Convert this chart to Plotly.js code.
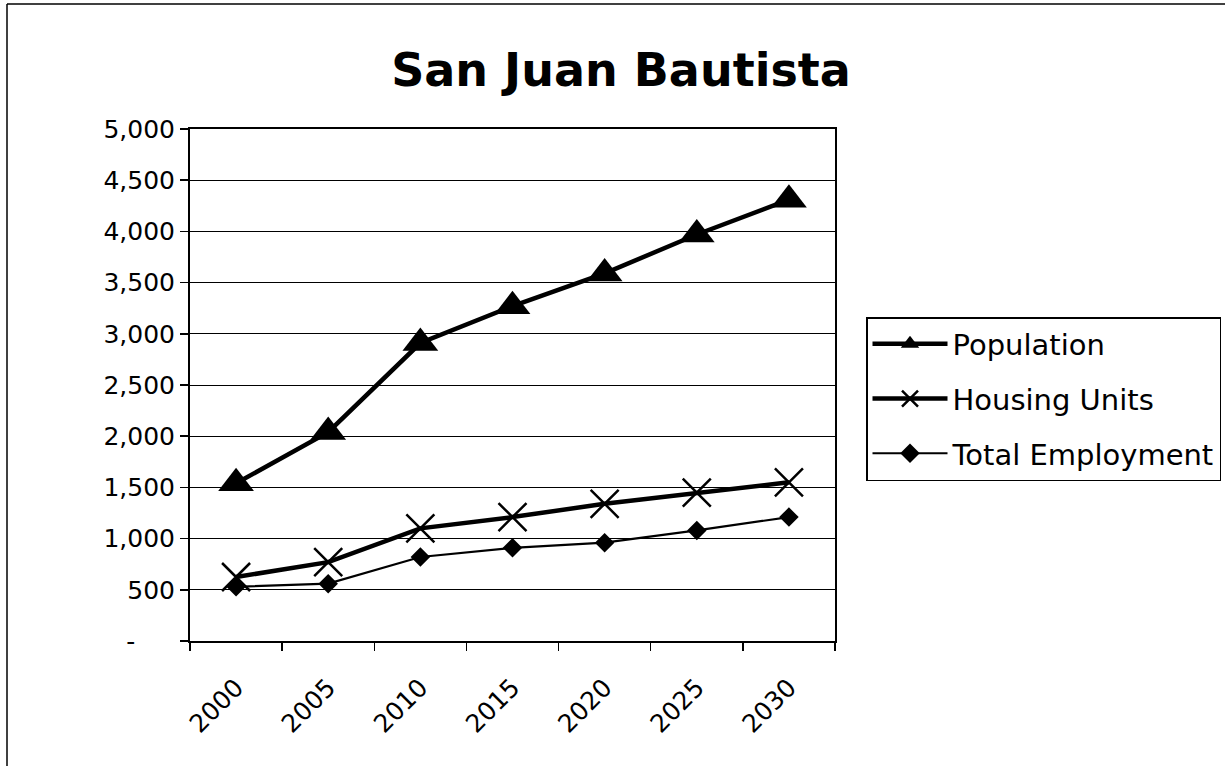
<!DOCTYPE html>
<html>
<head>
<meta charset="utf-8">
<script src="https://cdn.plot.ly/plotly-3.0.1.min.js"></script>
<style>
html,body{margin:0;padding:0;background:#fff;}
#chart{width:1225px;height:766px;}
</style>
</head>
<body>
<div id="chart"></div>
<script>
var years = ["2000","2005","2010","2015","2020","2025","2030"];
var population = [1540, 2040, 2910, 3270, 3590, 3970, 4310];
var housingUnits = [625, 770, 1100, 1210, 1340, 1450, 1550];
var totalEmployment = [530, 560, 820, 910, 960, 1080, 1210];
var yTickVals = [0,500,1000,1500,2000,2500,3000,3500,4000,4500,5000];
var yTickText = ["-\u00a0\u00a0\u00a0\u00a0\u00a0","500","1,000","1,500","2,000","2,500","3,000","3,500","4,000","4,500","5,000"];

var FONT = "'DejaVu Sans', sans-serif";
var W = 1225, H = 766;
var L = 190, R = 835, T = 129, B = 641;
function px(x){ return (x - L) / (R - L); }
function py(y){ return (B - y) / (B - T); }

var traces = [
  {x: years, y: population, name: "Population", type: "scatter", mode: "lines+markers",
   line: {color: "#000", width: 4.5}, legendgroup: "a",
   marker: {symbol: "triangle-up", size: 31, color: "#000"}},
  {x: years, y: housingUnits, name: "Housing Units", type: "scatter", mode: "lines+markers",
   line: {color: "#000", width: 4.5}, legendgroup: "b",
   marker: {symbol: "x-thin-open", size: 28, color: "#000", line: {color: "#000", width: 2.5}}},
  {x: years, y: totalEmployment, name: "Total Employment", type: "scatter", mode: "lines+markers",
   line: {color: "#000", width: 2.2}, legendgroup: "c",
   marker: {symbol: "diamond", size: 15, color: "#000"}}
];

var layout = {
  width: W, height: H,
  paper_bgcolor: "#fff", plot_bgcolor: "#fff",
  margin: {l: L, r: W - R, t: T, b: H - B, autoexpand: false},
  font: {family: FONT, size: 25, color: "#000"},
  title: {text: "<b>San Juan Bautista</b>", font: {family: FONT, size: 46, color: "#000"},
          x: 621 / W, xanchor: "center", xref: "container",
          y: 1 - 70 / H, yanchor: "middle", yref: "container"},
  xaxis: {type: "category", range: [-0.5, 6.5], tickson: "boundaries",
          ticks: "outside", ticklen: 8, tickwidth: 1.5, tickcolor: "#000",
          showline: true, linecolor: "#000", linewidth: 2, mirror: true,
          showgrid: false, zeroline: false, tickangle: -45,
          ticklabelstandoff: 20,
          tickfont: {family: FONT, size: 25, color: "#000"}},
  yaxis: {range: [0, 5000], tickvals: yTickVals, ticktext: yTickText,
          ticks: "outside", ticklen: 8, tickwidth: 1.5, tickcolor: "#000",
          showline: true, linecolor: "#000", linewidth: 2, mirror: true,
          showgrid: true, gridcolor: "#000", gridwidth: 1, zeroline: false,
          ticklabelstandoff: 0,
          tickfont: {family: FONT, size: 25, color: "#000"}},
  showlegend: true,
  legend: {x: px(866), xanchor: "left", y: py(317), yanchor: "top",
           bgcolor: "#fff", bordercolor: "#000", borderwidth: 1.5,
           font: {family: FONT, size: 29, color: "#000"},
           tracegroupgap: 14, itemwidth: 75},
  shapes: [
    {type: "line", xref: "paper", yref: "paper", x0: px(7), x1: px(1300), y0: py(4), y1: py(4),
     line: {color: "#000", width: 1.5}},
    {type: "line", xref: "paper", yref: "paper", x0: px(7), x1: px(7), y0: py(4), y1: py(800),
     line: {color: "#000", width: 1.5}}
  ]
};

Plotly.newPlot("chart", traces, layout, {displayModeBar: false, staticPlot: true});
</script>
</body>
</html>
